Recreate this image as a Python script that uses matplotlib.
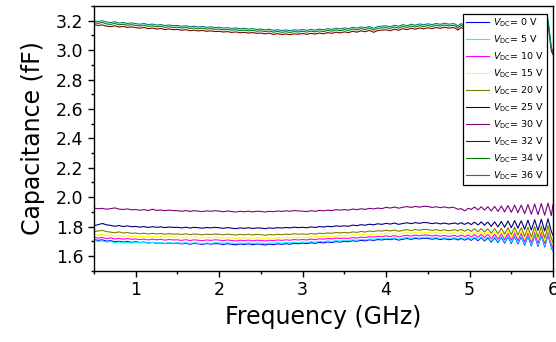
import numpy as np
import matplotlib
matplotlib.use("Agg")
import matplotlib.pyplot as plt
from matplotlib.ticker import MultipleLocator, FormatStrFormatter

# Measurement grid: 50 MHz steps up to 4.8 GHz, 20 MHz steps above
freq_ghz = np.concatenate([np.arange(0.5, 4.8001, 0.05), np.arange(4.82, 6.0001, 0.02)])

bias_labels = ["0", "5", "10", "15", "20", "25", "30", "32", "34", "36"]
line_colors = ["#0000FF", "#00FFFF", "#FF00FF", "#FFFF00", "#808000",
               "#000080", "#800080", "#800000", "#008000", "#008080"]

cap_0v = [
    1.712, 1.706, 1.710, 1.701, 1.704, 1.697, 1.700, 1.694, 1.699, 1.692,
    1.698, 1.691, 1.695, 1.688, 1.693, 1.686, 1.690, 1.684, 1.689, 1.685,
    1.688, 1.682, 1.687, 1.680, 1.686, 1.683, 1.679, 1.685, 1.681, 1.684,
    1.683, 1.678, 1.684, 1.679, 1.676, 1.682, 1.678, 1.683, 1.677, 1.681,
    1.680, 1.675, 1.681, 1.677, 1.683, 1.679, 1.684, 1.680, 1.686, 1.683,
    1.688, 1.684, 1.690, 1.686, 1.693, 1.689, 1.695, 1.692, 1.698, 1.694,
    1.700, 1.697, 1.704, 1.700, 1.707, 1.703, 1.710, 1.706, 1.712, 1.709,
    1.715, 1.711, 1.717, 1.708, 1.714, 1.719, 1.713, 1.720, 1.716, 1.721,
    1.720, 1.714, 1.719, 1.712, 1.718, 1.711, 1.716,
    1.718, 1.714, 1.709, 1.714, 1.719, 1.714, 1.708, 1.713, 1.720, 1.714,
    1.706, 1.714, 1.723, 1.714, 1.704, 1.714, 1.725, 1.714, 1.702, 1.714,
    1.723, 1.709, 1.694, 1.709, 1.725, 1.709, 1.691, 1.709, 1.728, 1.709,
    1.688, 1.709, 1.731, 1.709, 1.685, 1.709, 1.734, 1.709, 1.682, 1.709,
    1.731, 1.703, 1.673, 1.703, 1.735, 1.703, 1.669, 1.703, 1.739, 1.703,
    1.666, 1.703, 1.742, 1.703, 1.662, 1.703, 1.745, 1.703, 1.659, 1.633,
]

cap_5v = [
    1.704, 1.699, 1.702, 1.694, 1.698, 1.690, 1.695, 1.689, 1.693, 1.688,
    1.694, 1.689, 1.693, 1.687, 1.692, 1.688, 1.691, 1.686, 1.690, 1.687,
    1.690, 1.686, 1.691, 1.685, 1.690, 1.687, 1.684, 1.689, 1.686, 1.690,
    1.690, 1.686, 1.691, 1.687, 1.684, 1.689, 1.686, 1.690, 1.685, 1.689,
    1.688, 1.684, 1.689, 1.686, 1.691, 1.688, 1.692, 1.689, 1.694, 1.691,
    1.695, 1.692, 1.698, 1.694, 1.700, 1.697, 1.703, 1.699, 1.705, 1.702,
    1.708, 1.704, 1.711, 1.707, 1.714, 1.710, 1.717, 1.713, 1.719, 1.716,
    1.722, 1.717, 1.724, 1.715, 1.721, 1.726, 1.720, 1.727, 1.722, 1.728,
    1.728, 1.721, 1.726, 1.719, 1.725, 1.718, 1.723,
    1.725, 1.721, 1.716, 1.722, 1.726, 1.720, 1.715, 1.720, 1.727, 1.721,
    1.713, 1.722, 1.730, 1.721, 1.711, 1.720, 1.732, 1.721, 1.709, 1.722,
    1.730, 1.716, 1.701, 1.717, 1.732, 1.716, 1.698, 1.715, 1.735, 1.716,
    1.695, 1.717, 1.738, 1.716, 1.692, 1.715, 1.741, 1.716, 1.689, 1.717,
    1.738, 1.710, 1.680, 1.711, 1.742, 1.710, 1.676, 1.709, 1.746, 1.710,
    1.673, 1.711, 1.749, 1.710, 1.669, 1.709, 1.752, 1.710, 1.666, 1.640,
]

cap_10v = [
    1.728, 1.722, 1.726, 1.718, 1.723, 1.716, 1.720, 1.714, 1.719, 1.713,
    1.716, 1.711, 1.715, 1.709, 1.714, 1.710, 1.713, 1.708, 1.712, 1.709,
    1.710, 1.706, 1.711, 1.705, 1.710, 1.707, 1.704, 1.709, 1.706, 1.710,
    1.708, 1.704, 1.709, 1.705, 1.702, 1.707, 1.704, 1.708, 1.703, 1.707,
    1.706, 1.702, 1.707, 1.704, 1.709, 1.706, 1.710, 1.707, 1.712, 1.709,
    1.712, 1.709, 1.715, 1.711, 1.717, 1.714, 1.719, 1.716, 1.722, 1.719,
    1.722, 1.719, 1.726, 1.722, 1.729, 1.725, 1.732, 1.728, 1.734, 1.731,
    1.737, 1.732, 1.739, 1.730, 1.736, 1.741, 1.735, 1.742, 1.737, 1.743,
    1.742, 1.736, 1.741, 1.734, 1.740, 1.733, 1.738,
    1.741, 1.736, 1.732, 1.737, 1.742, 1.738, 1.731, 1.736, 1.743, 1.737,
    1.729, 1.738, 1.746, 1.737, 1.727, 1.736, 1.748, 1.737, 1.725, 1.738,
    1.746, 1.732, 1.717, 1.733, 1.748, 1.732, 1.714, 1.731, 1.751, 1.732,
    1.711, 1.733, 1.754, 1.732, 1.708, 1.731, 1.757, 1.732, 1.705, 1.733,
    1.754, 1.726, 1.696, 1.727, 1.758, 1.726, 1.692, 1.725, 1.762, 1.726,
    1.689, 1.727, 1.765, 1.726, 1.685, 1.725, 1.768, 1.726, 1.682, 1.656,
]

cap_15v = [
    1.746, 1.741, 1.748, 1.739, 1.743, 1.736, 1.741, 1.734, 1.738, 1.733,
    1.735, 1.730, 1.734, 1.728, 1.733, 1.729, 1.732, 1.727, 1.731, 1.728,
    1.728, 1.724, 1.729, 1.723, 1.728, 1.725, 1.722, 1.727, 1.724, 1.728,
    1.725, 1.721, 1.726, 1.722, 1.719, 1.724, 1.721, 1.725, 1.720, 1.724,
    1.722, 1.718, 1.723, 1.720, 1.725, 1.722, 1.726, 1.723, 1.728, 1.725,
    1.728, 1.725, 1.731, 1.727, 1.733, 1.730, 1.736, 1.732, 1.738, 1.735,
    1.740, 1.737, 1.744, 1.740, 1.747, 1.743, 1.750, 1.746, 1.752, 1.749,
    1.755, 1.750, 1.757, 1.748, 1.754, 1.759, 1.753, 1.760, 1.755, 1.761,
    1.760, 1.754, 1.759, 1.752, 1.758, 1.751, 1.756,
    1.759, 1.755, 1.750, 1.756, 1.760, 1.754, 1.749, 1.754, 1.761, 1.755,
    1.747, 1.756, 1.764, 1.755, 1.745, 1.754, 1.766, 1.755, 1.743, 1.756,
    1.764, 1.750, 1.735, 1.751, 1.766, 1.750, 1.732, 1.749, 1.769, 1.750,
    1.729, 1.751, 1.772, 1.750, 1.726, 1.749, 1.775, 1.750, 1.723, 1.751,
    1.772, 1.744, 1.714, 1.745, 1.776, 1.744, 1.710, 1.743, 1.780, 1.744,
    1.707, 1.745, 1.783, 1.744, 1.703, 1.743, 1.786, 1.744, 1.700, 1.674,
]

cap_20v = [
    1.765, 1.770, 1.774, 1.766, 1.762, 1.758, 1.764, 1.756, 1.760, 1.754,
    1.756, 1.751, 1.755, 1.749, 1.754, 1.750, 1.753, 1.748, 1.752, 1.749,
    1.750, 1.746, 1.751, 1.745, 1.750, 1.747, 1.744, 1.749, 1.746, 1.750,
    1.748, 1.744, 1.749, 1.745, 1.742, 1.747, 1.744, 1.748, 1.743, 1.747,
    1.745, 1.741, 1.746, 1.743, 1.748, 1.745, 1.749, 1.746, 1.751, 1.748,
    1.750, 1.747, 1.753, 1.749, 1.755, 1.752, 1.757, 1.754, 1.760, 1.757,
    1.760, 1.757, 1.764, 1.760, 1.767, 1.763, 1.770, 1.766, 1.772, 1.769,
    1.775, 1.770, 1.777, 1.768, 1.774, 1.779, 1.773, 1.780, 1.775, 1.781,
    1.780, 1.774, 1.779, 1.772, 1.778, 1.771, 1.776,
    1.779, 1.775, 1.770, 1.776, 1.780, 1.774, 1.769, 1.774, 1.781, 1.775,
    1.767, 1.776, 1.784, 1.775, 1.765, 1.774, 1.786, 1.775, 1.763, 1.776,
    1.784, 1.770, 1.755, 1.771, 1.786, 1.770, 1.752, 1.769, 1.789, 1.770,
    1.749, 1.771, 1.792, 1.770, 1.746, 1.769, 1.795, 1.770, 1.743, 1.771,
    1.792, 1.764, 1.734, 1.765, 1.796, 1.764, 1.730, 1.763, 1.800, 1.764,
    1.727, 1.765, 1.803, 1.764, 1.723, 1.763, 1.806, 1.764, 1.720, 1.694,
]

cap_25v = [
    1.806, 1.813, 1.821, 1.812, 1.808, 1.802, 1.807, 1.800, 1.805, 1.799,
    1.801, 1.796, 1.800, 1.794, 1.799, 1.795, 1.798, 1.793, 1.797, 1.794,
    1.795, 1.791, 1.796, 1.790, 1.795, 1.792, 1.789, 1.794, 1.791, 1.795,
    1.792, 1.788, 1.793, 1.789, 1.786, 1.791, 1.788, 1.792, 1.787, 1.791,
    1.790, 1.786, 1.791, 1.788, 1.793, 1.790, 1.794, 1.791, 1.796, 1.793,
    1.795, 1.792, 1.798, 1.794, 1.800, 1.797, 1.802, 1.799, 1.805, 1.802,
    1.805, 1.802, 1.810, 1.806, 1.813, 1.809, 1.816, 1.812, 1.819, 1.815,
    1.822, 1.817, 1.824, 1.815, 1.821, 1.826, 1.820, 1.827, 1.822, 1.828,
    1.826, 1.820, 1.825, 1.818, 1.824, 1.817, 1.822,
    1.825, 1.821, 1.816, 1.822, 1.826, 1.820, 1.815, 1.820, 1.827, 1.821,
    1.813, 1.822, 1.830, 1.821, 1.811, 1.820, 1.832, 1.821, 1.809, 1.822,
    1.830, 1.816, 1.801, 1.817, 1.832, 1.816, 1.798, 1.815, 1.835, 1.816,
    1.795, 1.817, 1.838, 1.816, 1.792, 1.815, 1.841, 1.816, 1.789, 1.817,
    1.839, 1.811, 1.781, 1.812, 1.843, 1.811, 1.777, 1.810, 1.847, 1.811,
    1.774, 1.812, 1.850, 1.811, 1.770, 1.810, 1.853, 1.811, 1.767, 1.741,
]

cap_30v = [
    1.926, 1.921, 1.924, 1.918, 1.922, 1.927, 1.919, 1.916, 1.920, 1.914,
    1.916, 1.911, 1.915, 1.909, 1.918, 1.910, 1.913, 1.908, 1.912, 1.909,
    1.908, 1.904, 1.909, 1.903, 1.908, 1.905, 1.902, 1.907, 1.904, 1.908,
    1.905, 1.901, 1.906, 1.902, 1.899, 1.904, 1.901, 1.905, 1.900, 1.904,
    1.903, 1.899, 1.904, 1.901, 1.906, 1.903, 1.907, 1.904, 1.909, 1.906,
    1.905, 1.902, 1.908, 1.904, 1.910, 1.907, 1.912, 1.909, 1.915, 1.912,
    1.915, 1.912, 1.919, 1.915, 1.921, 1.917, 1.924, 1.920, 1.926, 1.922,
    1.931, 1.926, 1.933, 1.925, 1.931, 1.936, 1.930, 1.937, 1.932, 1.938,
    1.937, 1.930, 1.935, 1.928, 1.934, 1.927, 1.932,
    1.928, 1.923, 1.917, 1.920, 1.922, 1.915, 1.907, 1.912, 1.924, 1.922,
    1.916, 1.925, 1.933, 1.924, 1.914, 1.923, 1.935, 1.924, 1.912, 1.925,
    1.935, 1.921, 1.906, 1.922, 1.937, 1.921, 1.903, 1.920, 1.940, 1.921,
    1.900, 1.922, 1.943, 1.921, 1.897, 1.920, 1.946, 1.921, 1.894, 1.922,
    1.946, 1.918, 1.888, 1.919, 1.950, 1.918, 1.884, 1.917, 1.954, 1.918,
    1.881, 1.919, 1.957, 1.918, 1.877, 1.917, 1.960, 1.918, 1.874, 1.950,
]

cap_32v = [
    3.172, 3.168, 3.171, 3.163, 3.160, 3.165, 3.157, 3.161, 3.154, 3.158,
    3.153, 3.149, 3.154, 3.146, 3.150, 3.143, 3.147, 3.140, 3.144, 3.139,
    3.141, 3.135, 3.139, 3.132, 3.136, 3.130, 3.134, 3.128, 3.131, 3.126,
    3.128, 3.123, 3.126, 3.120, 3.124, 3.118, 3.121, 3.116, 3.119, 3.114,
    3.116, 3.111, 3.115, 3.107, 3.112, 3.106, 3.110, 3.105, 3.111, 3.108,
    3.113, 3.107, 3.114, 3.109, 3.116, 3.111, 3.119, 3.114, 3.122, 3.117,
    3.124, 3.119, 3.128, 3.122, 3.131, 3.125, 3.134, 3.121, 3.133, 3.136,
    3.138, 3.132, 3.142, 3.135, 3.146, 3.139, 3.149, 3.142, 3.151, 3.145,
    3.152, 3.146, 3.154, 3.148, 3.156, 3.149, 3.153,
    3.152, 3.145, 3.136, 3.146, 3.153, 3.147, 3.140, 3.148, 3.154, 3.148,
    3.139, 3.148, 3.158, 3.148, 3.136, 3.147, 3.160, 3.147, 3.133, 3.146,
    3.162, 3.146, 3.128, 3.145, 3.165, 3.145, 3.123, 3.144, 3.168, 3.144,
    3.118, 3.143, 3.171, 3.143, 3.112, 3.142, 3.176, 3.141, 3.104, 3.140,
    3.180, 3.139, 3.095, 3.137, 3.185, 3.135, 3.083, 3.131, 3.187, 3.126,
    3.063, 3.121, 3.188, 3.113, 3.013, 3.103, 3.183, 3.088, 2.993, 2.970,
]

cap_34v = [
    3.186, 3.182, 3.188, 3.178, 3.175, 3.181, 3.172, 3.176, 3.169, 3.173,
    3.168, 3.164, 3.169, 3.161, 3.165, 3.158, 3.162, 3.155, 3.159, 3.154,
    3.156, 3.150, 3.154, 3.147, 3.151, 3.145, 3.149, 3.143, 3.146, 3.141,
    3.143, 3.138, 3.141, 3.135, 3.139, 3.133, 3.136, 3.131, 3.134, 3.129,
    3.131, 3.126, 3.130, 3.122, 3.127, 3.121, 3.125, 3.120, 3.126, 3.123,
    3.128, 3.122, 3.129, 3.124, 3.131, 3.126, 3.134, 3.129, 3.137, 3.132,
    3.139, 3.134, 3.143, 3.137, 3.146, 3.140, 3.149, 3.136, 3.148, 3.151,
    3.153, 3.147, 3.157, 3.150, 3.161, 3.154, 3.164, 3.157, 3.166, 3.160,
    3.167, 3.161, 3.169, 3.163, 3.171, 3.164, 3.168,
    3.167, 3.160, 3.151, 3.161, 3.168, 3.162, 3.155, 3.163, 3.169, 3.163,
    3.154, 3.163, 3.173, 3.163, 3.151, 3.162, 3.175, 3.162, 3.148, 3.161,
    3.177, 3.161, 3.143, 3.160, 3.180, 3.160, 3.138, 3.159, 3.183, 3.159,
    3.133, 3.158, 3.186, 3.158, 3.127, 3.157, 3.191, 3.156, 3.119, 3.155,
    3.195, 3.154, 3.110, 3.152, 3.200, 3.150, 3.098, 3.146, 3.202, 3.141,
    3.078, 3.136, 3.203, 3.128, 3.028, 3.118, 3.198, 3.103, 3.008, 2.980,
]

cap_36v = [
    3.198, 3.193, 3.200, 3.191, 3.187, 3.193, 3.184, 3.188, 3.181, 3.185,
    3.180, 3.176, 3.181, 3.173, 3.177, 3.170, 3.174, 3.167, 3.171, 3.166,
    3.168, 3.162, 3.166, 3.159, 3.163, 3.157, 3.161, 3.155, 3.158, 3.153,
    3.155, 3.150, 3.153, 3.147, 3.151, 3.145, 3.148, 3.143, 3.146, 3.141,
    3.143, 3.138, 3.142, 3.134, 3.139, 3.133, 3.137, 3.132, 3.138, 3.135,
    3.140, 3.134, 3.141, 3.136, 3.143, 3.138, 3.146, 3.141, 3.149, 3.144,
    3.151, 3.146, 3.155, 3.149, 3.158, 3.152, 3.161, 3.148, 3.160, 3.163,
    3.165, 3.159, 3.169, 3.162, 3.173, 3.166, 3.176, 3.169, 3.178, 3.172,
    3.179, 3.173, 3.181, 3.175, 3.183, 3.176, 3.180,
    3.179, 3.172, 3.163, 3.173, 3.180, 3.174, 3.167, 3.175, 3.181, 3.175,
    3.166, 3.175, 3.185, 3.175, 3.163, 3.174, 3.187, 3.174, 3.160, 3.173,
    3.189, 3.173, 3.155, 3.172, 3.192, 3.172, 3.150, 3.171, 3.195, 3.171,
    3.145, 3.170, 3.198, 3.170, 3.139, 3.169, 3.203, 3.168, 3.131, 3.167,
    3.207, 3.166, 3.122, 3.164, 3.212, 3.162, 3.110, 3.158, 3.214, 3.153,
    3.090, 3.148, 3.215, 3.140, 3.040, 3.130, 3.210, 3.115, 3.020, 2.990,
]

all_series = [cap_0v, cap_5v, cap_10v, cap_15v, cap_20v,
              cap_25v, cap_30v, cap_32v, cap_34v, cap_36v]

plt.rcParams["font.family"] = ["DejaVu Sans"]
plt.rcParams["mathtext.fontset"] = "dejavusans"

fig = plt.figure(figsize=(5.56, 3.42), dpi=100)
ax = fig.add_axes([0.169, 0.2085, 0.8256, 0.774])

for vals, lbl, col in zip(all_series, bias_labels, line_colors):
    ax.plot(freq_ghz, vals, color=col, lw=0.8,
            label=r"$V_{\mathrm{DC}}$= " + lbl + " V")

ax.set_xlim(0.5, 6.0)
ax.set_ylim(1.5, 3.3)
ax.xaxis.set_major_locator(MultipleLocator(1))
ax.xaxis.set_minor_locator(MultipleLocator(0.5))
ax.set_yticks(np.arange(1.6, 3.21, 0.2))
ax.yaxis.set_minor_locator(MultipleLocator(0.1))
ax.yaxis.set_major_formatter(FormatStrFormatter("%.1f"))
ax.tick_params(which="major", direction="out", length=4, width=1,
               labelsize=12.5, colors="black")
ax.tick_params(which="minor", direction="out", length=2.5, width=1)
for s in ax.spines.values():
    s.set_linewidth(1.0)

ax.set_xlabel("Frequency (GHz)", fontsize=17, labelpad=4)
ax.set_ylabel("Capacitance (fF)", fontsize=17, labelpad=8)

leg = ax.legend(loc="upper right", bbox_to_anchor=(0.987, 0.970),
                borderaxespad=0, fontsize=6.8, frameon=True, fancybox=False,
                handlelength=2.4, handletextpad=0.45, labelspacing=0.47,
                borderpad=0.3, framealpha=1.0)
leg.get_frame().set_edgecolor("black")
leg.get_frame().set_linewidth(0.9)

fig.savefig("out.png", dpi=100)
